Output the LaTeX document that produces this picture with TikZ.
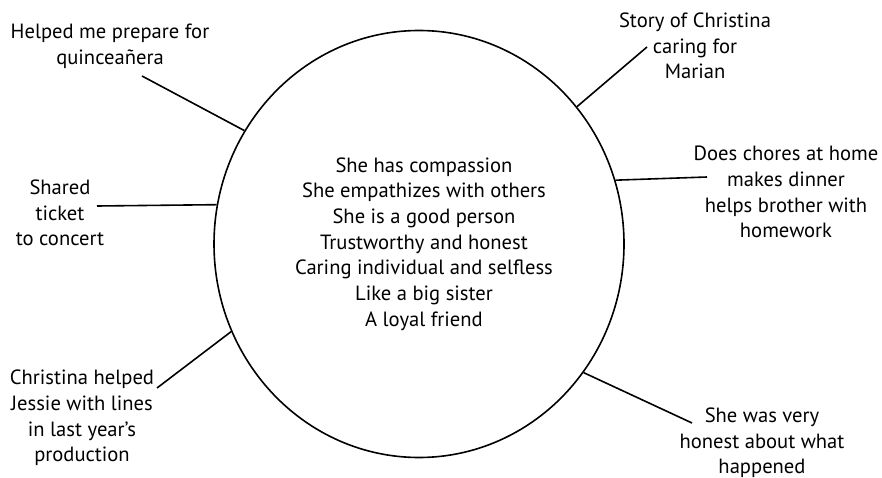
\documentclass[tikz,border=0pt]{standalone}
\usepackage{fontspec}
\setmainfont{PT Sans}
\usetikzlibrary{shapes.geometric}
\begin{document}
\begin{tikzpicture}[x=1pt,y=-1pt,
  lbl/.style={align=center,inner sep=0pt,font=\fontsize{20.6}{25.7}\selectfont},
  conn/.style={line width=1.6pt},
  bubble/.style={ellipse,draw,line width=1.6pt,minimum width=410pt,minimum height=427pt,inner sep=0pt}]
\useasboundingbox (0,0) rectangle (882,478);
\node[bubble] (c) at (419,244) {};
\node[lbl] (mid) at (424,244) {She has compassion\\She empathizes with others\\She is a good person\\Trustworthy and honest\\Caring individual and selfless\\Like a big sister\\A loyal friend};
\node[lbl] (l1) at (110,46) {Helped me prepare for\\quinceañera};
\node[lbl] (l2) at (695,46) {Story of Christina\\caring for\\Marian};
\node[lbl] (l3) at (786,192) {Does chores at home\\makes dinner\\helps brother with\\homework};
\node[lbl] (l4) at (60,213) {Shared\\ticket\\to concert};
\node[lbl] (l5) at (82,418) {Christina helped\\Jessie with lines\\in last year’s\\production};
\node[lbl] (l6) at (762,443) {She was very\\honest about what\\happened};
\coordinate (e1) at (142,76);
\coordinate (e2) at (647,47);
\coordinate (e3) at (707,177);
\coordinate (e4) at (97,206);
\coordinate (e5) at (157,388);
\coordinate (e6) at (692,423);
\draw[conn] (e1) -- (c.147.8);
\draw[conn] (e2) -- (c.41.7);
\draw[conn] (e3) -- (c.18.7);
\draw[conn] (e4) -- (c.169.3);
\draw[conn] (e5) -- (c.205.7);
\draw[conn] (e6) -- (c.322.4);
\end{tikzpicture}
\end{document}
